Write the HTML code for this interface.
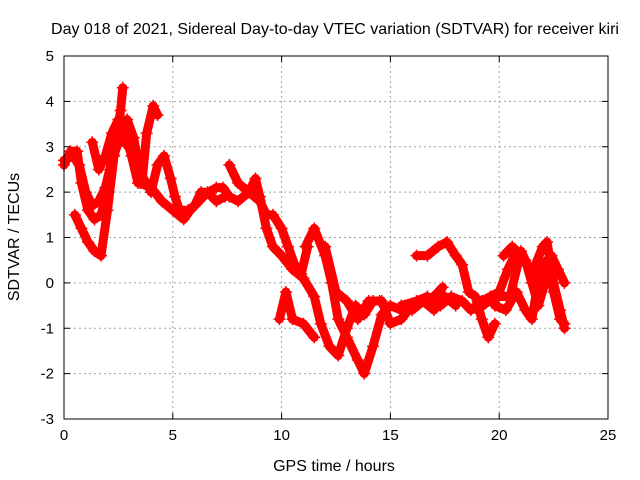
<!DOCTYPE html>
<html><head><meta charset="utf-8"><style>
body{margin:0;background:#fff}
svg{display:block;font-family:"Liberation Sans",sans-serif}
</style></head><body>
<svg id="chart" width="640" height="480">
<text x="335" y="34" text-anchor="middle" font-size="16">Day 018 of 2021, Sidereal Day-to-day VTEC variation (SDTVAR) for receiver kiri</text>
<text x="334" y="471" text-anchor="middle" font-size="16">GPS time / hours</text>
<text transform="translate(19,237) rotate(-90)" text-anchor="middle" font-size="16">SDTVAR / TECUs</text>
<g id="grid"></g><g id="marks"></g><g id="axes"></g>
</svg>
<script>
const xTicks=[0,5,10,15,20,25];
const yTicks=[-3,-2,-1,0,1,2,3,4,5];
const s1=[[0,2.6],[0.3,2.9],[0.6,2.9],[0.8,2.2],[1.1,1.6],[1.4,1.4],[1.7,1.5],[2.0,2.0],[2.3,2.8],[2.6,3.3],[2.9,3.6],[3.2,3.2],[3.5,2.4],[3.8,2.2],[4.0,2.0],[4.3,2.6],[4.6,2.8],[4.9,2.3],[5.1,1.9],[5.3,1.6],[5.7,1.6],[6.0,1.7],[6.3,2.0],[6.7,2.0],[7.0,2.1],[7.3,2.1],[7.6,1.9],[8.0,1.8],[8.5,2.0],[8.8,2.3],[9.0,1.9],[9.3,1.2],[9.6,0.8],[10.0,0.6],[10.5,0.3]];
const s2=[[0.5,1.5],[0.8,1.2],[1.1,0.9],[1.4,0.7],[1.7,0.6],[2.0,1.6],[2.3,2.8],[2.6,3.8],[2.7,4.3]];
const s3=[[1.3,3.1],[1.6,2.5],[1.9,2.8],[2.2,3.3],[2.5,3.6],[2.8,3.4],[3.1,2.8],[3.4,2.2],[3.6,2.3],[3.8,3.3],[4.1,3.9],[4.3,3.7]];
const s4=[[0.0,2.7],[0.4,2.8],[0.7,2.6],[1.0,2.0],[1.3,1.7],[1.6,1.8],[1.9,2.1],[2.2,2.7],[2.5,3.1],[2.8,3.1],[3.1,2.9],[3.5,2.2],[4.0,2.1],[4.5,1.8],[5.0,1.6],[5.5,1.4],[5.8,1.6],[6.2,1.8],[6.6,2.0],[7.0,1.8],[7.4,1.9]];
const s5=[[7.6,2.6],[8.0,2.2],[8.5,2.0],[9.0,1.8],[9.3,1.5],[9.6,1.5],[10.0,1.2],[10.3,0.8],[10.6,0.4],[10.9,0.2],[11.2,0.8]];
const s6=[[9.9,-0.8],[10.2,-0.2],[10.5,-0.8],[11.0,-0.9],[11.5,-1.2]];
const s7=[[11.1,0.8],[11.5,1.2],[12.0,0.6],[12.3,0.0],[12.6,-0.8],[13.0,-1.2],[13.5,-1.7],[13.8,-2.0],[14.2,-1.4],[14.6,-0.7],[15.0,-0.5],[15.5,-0.6],[16.0,-0.6],[16.5,-0.4],[17.0,-0.3],[17.4,-0.1]];
const s8=[[10.5,0.3],[11.0,0.1],[11.5,-0.3],[11.8,-0.9],[12.2,-1.4],[12.6,-1.6],[13.0,-1.0],[13.4,-0.5],[13.8,-0.7],[14.2,-0.4],[14.6,-0.4],[15.0,-0.9],[15.5,-0.8],[16.0,-0.5],[16.5,-0.4],[17.0,-0.6],[17.5,-0.3],[18.0,-0.5]];
const s9=[[12.0,0.8],[12.5,-0.2],[13.0,-0.4],[13.5,-0.8],[14.0,-0.4],[14.5,-0.4]];
const s10=[[16.2,0.6],[16.7,0.6],[17.2,0.8],[17.6,0.9],[18.0,0.6],[18.3,0.4],[18.6,-0.2],[18.9,-0.3],[19.2,-0.8],[19.5,-1.2],[19.8,-0.9]];
const s11=[[15.5,-0.5],[16.2,-0.4],[16.7,-0.3],[17.3,-0.5],[17.8,-0.3],[18.3,-0.4],[18.7,-0.6],[19.2,-0.4],[19.6,-0.3],[20.0,-0.2],[20.4,0.3],[20.8,0.7],[21.2,0.5],[21.5,0.0],[21.8,-0.5],[22.1,0.0],[22.4,0.6],[22.7,0.3],[23.0,0.0]];
const s12=[[19.0,-0.6],[19.5,-0.4],[20.0,-0.3],[20.5,-0.3],[21.0,0.7],[21.5,0.2],[22.0,0.8],[22.2,0.9],[22.5,0.0],[22.8,-0.6],[23.0,-1.0]];
const s13=[[19.8,-0.5],[20.3,-0.6],[20.8,-0.2],[21.2,-0.6],[21.5,-0.8],[21.9,0.3],[22.2,0.5],[22.5,-0.2],[22.8,-0.8],[23.0,-0.9]];
const s14=[[20.2,0.6],[20.6,0.8],[21.0,0.6],[21.4,0.3]];
const series=[s1,s2,s3,s4,s5,s6,s7,s8,s9,s10,s11,s12,s13,s14];

const X0=64,X1=608,Y0=419,Y1=56;
const xs=t=>X0+(t-0)/(25-0)*(X1-X0);
const ys=v=>Y0-(v+3)/(5+3)*(Y0-Y1);
const NS='http://www.w3.org/2000/svg';
function mk(tag,attrs,parent){const e=document.createElementNS(NS,tag);for(const k in attrs)e.setAttribute(k,attrs[k]);parent.appendChild(e);return e;}
const grid=document.getElementById('grid'),marks=document.getElementById('marks'),axes=document.getElementById('axes');
xTicks.forEach(t=>{const x=xs(t);
 if(t>0&&t<25){const g=mk('line',{x1:x,x2:x,y1:Y1,y2:Y0,stroke:'#a0a0a0','stroke-dasharray':'2,3'},grid);
 
 }
 mk('line',{x1:x,x2:x,y1:Y0,y2:Y0-6,stroke:'#000'},axes);
 mk('line',{x1:x,x2:x,y1:Y1,y2:Y1+6,stroke:'#000'},axes);
 const l=mk('text',{x:x,y:Y0+21,'text-anchor':'middle','font-size':15},axes);l.textContent=t;
 
 
});
yTicks.forEach(v=>{const y=ys(v);
 if(v>-3&&v<5){const g=mk('line',{x1:X0,x2:X1,y1:y,y2:y,stroke:'#a0a0a0','stroke-dasharray':'2,3'},grid);
 
 }
 mk('line',{x1:X0,x2:X0+6,y1:y,y2:y,stroke:'#000'},axes);
 mk('line',{x1:X1,x2:X1-6,y1:y,y2:y,stroke:'#000'},axes);
 const l=mk('text',{x:X0-10,y:y+5,'text-anchor':'end','font-size':15},axes);l.textContent=v;
 
 
});
const frame=mk('rect',{x:X0,y:Y1,width:X1-X0,height:Y0-Y1,fill:'none',stroke:'#000'},axes);


series.forEach((s,i)=>{
 const p=mk('polyline',{points:s.map(d=>xs(d[0])+','+ys(d[1])).join(' '),fill:'none',stroke:'#f00','stroke-width':9,'stroke-linejoin':'round','stroke-linecap':'round'},marks);
 
 
 s.forEach(d=>{const x=xs(d[0]),y=ys(d[1]);
  const m=mk('path',{d:`M${x-6},${y}h12M${x},${y-6}v12`,stroke:'#f00','stroke-width':1.5},marks);
  
  
 });
});
</script>
</body></html>
